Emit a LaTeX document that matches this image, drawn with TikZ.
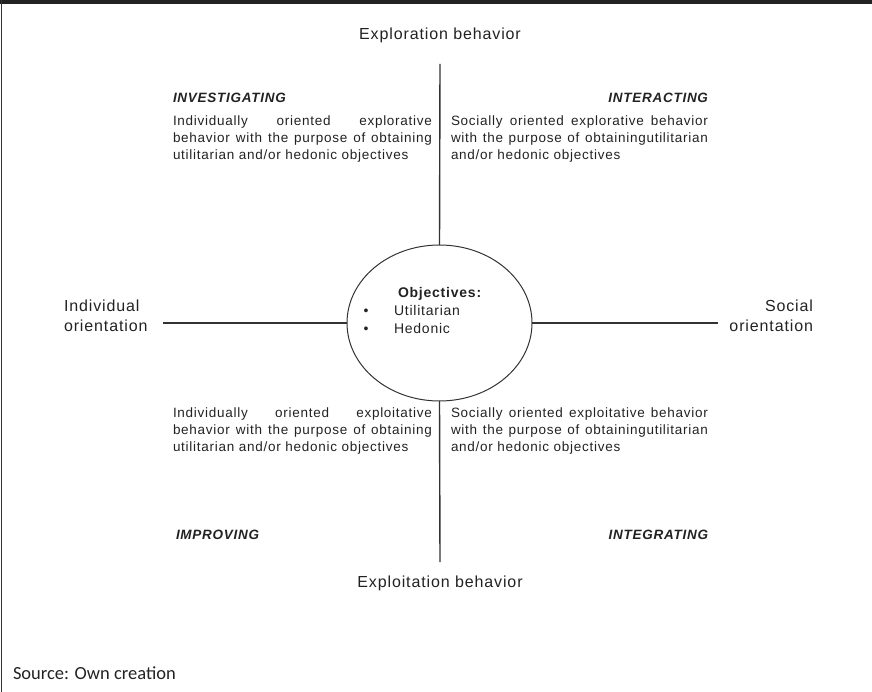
\documentclass[tikz,border=0pt]{standalone}
\usepackage{fontspec}
\setmainfont{Liberation Sans}[LetterSpace=5.5]
\newfontfamily\srcfont{Carlito}
\usetikzlibrary{shapes.geometric}
\definecolor{ink}{HTML}{222222}
\definecolor{rule}{HTML}{333333}
\begin{document}
\begin{tikzpicture}[x=1pt,y=-1pt,
  every node/.style={inner sep=0pt, outer sep=0pt, text=ink},
  axis/.style={draw=rule, line width=1.4pt},
  title/.style={font=\fontsize{16}{19}\selectfont},
  quad/.style={font=\fontsize{13.5}{17}\selectfont\bfseries\itshape},
  body/.style={font=\fontsize{13.5}{17}\selectfont, text width=259pt, align=justify, anchor=north west},
  small/.style={font=\fontsize{14}{18}\selectfont}]
\useasboundingbox (0,0) rectangle (872,692);
% frame
\fill[ink] (0,0) rectangle (872,4);
\draw[rule, line width=1.5pt] (1.5,0) -- (1.5,692);
% centre ellipse
\node[draw=rule, line width=1pt, ellipse, minimum width=185pt, minimum height=156pt] (obj) at (439.5,323) {};
% axis ends
\coordinate (top) at (440,64);
\coordinate (bot) at (440,562);
\coordinate (lft) at (163,323);
\coordinate (rgt) at (718,323);
\draw[axis] (top) -- (obj.north);
\draw[axis] (obj.south) -- (bot);
\draw[axis] (lft) -- (obj.west);
\draw[axis] (obj.east) -- (rgt);
% axis titles
\node[title, anchor=base] (explor) at (440,40) {Exploration behavior};
\node[title, anchor=base] (exploit) at (440,587) {Exploitation behavior};
\node[title, anchor=base west] (ind1) at (64,312) {Individual};
\node[title, anchor=base west] (ind2) at (64,331) {orientation};
\node[title, anchor=base east] (soc1) at (813,312) {Social};
\node[title, anchor=base east] (soc2) at (813,331) {orientation};
% ellipse text
\node[small, font=\fontsize{14}{18}\selectfont\bfseries, anchor=base west] (objt) at (398,298) {Objectives:};
\node[small, anchor=base] (b1) at (366,316) {\textbullet};
\node[small, anchor=base] (b2) at (366,334) {\textbullet};
\node[small, anchor=base west] (u) at (394,316) {Utilitarian};
\node[small, anchor=base west] (h) at (394,334) {Hedonic};
% quadrant headings
\node[quad, anchor=base west] (inv) at (173,103) {INVESTIGATING};
\node[quad, anchor=base east] (inter) at (708,103) {INTERACTING};
\node[quad, anchor=base west] (impr) at (176,539) {IMPROVING};
\node[quad, anchor=base east] (integ) at (708,539) {INTEGRATING};
% quadrant texts
\node[body] (tl) at (173,116) {Individually oriented explorative\linebreak behavior with the purpose of obtaining\linebreak utilitarian and/or hedonic objectives};
\node[body, text width=257pt] (tr) at (451,116) {Socially oriented explorative behavior\linebreak with the purpose of obtainingutilitarian\linebreak and/or hedonic objectives};
\node[body] (bl) at (173,408) {Individually oriented exploitative\linebreak behavior with the purpose of obtaining\linebreak utilitarian and/or hedonic objectives};
\node[body, text width=257pt] (br) at (451,408) {Socially oriented exploitative behavior\linebreak with the purpose of obtainingutilitarian\linebreak and/or hedonic objectives};
% source
\node[font=\srcfont\fontsize{18.5}{22}\selectfont, anchor=base west] (src) at (13,679) {Source: Own creation};
\end{tikzpicture}
\end{document}
